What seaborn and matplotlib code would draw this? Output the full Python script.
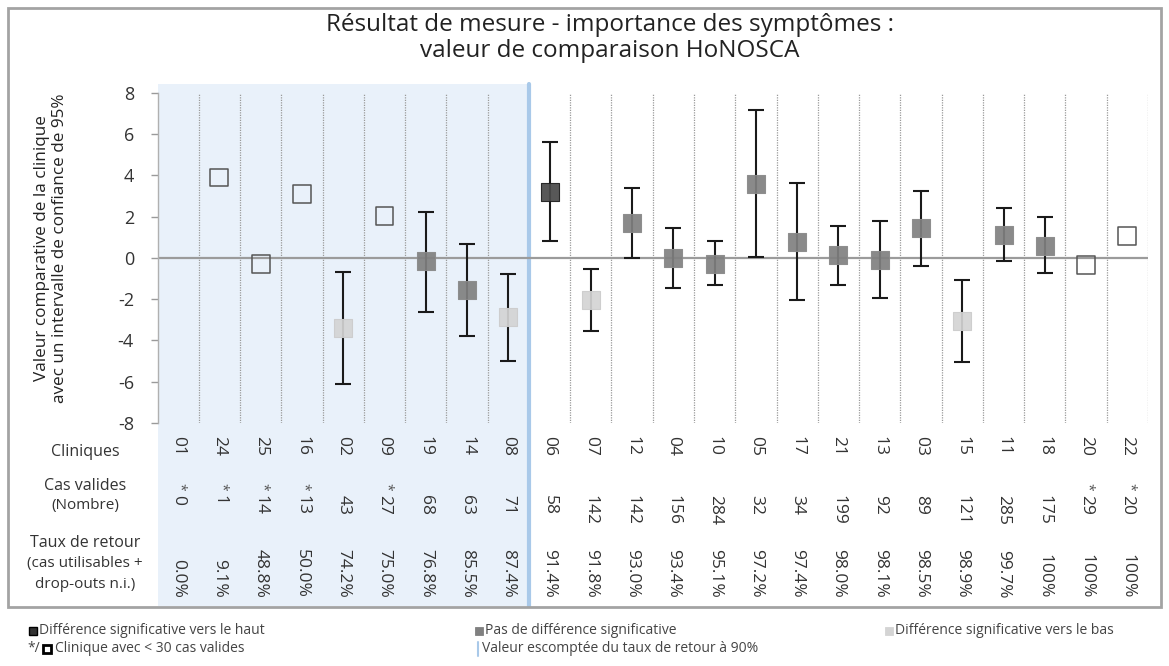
import numpy as np
import pandas as pd
import matplotlib
matplotlib.use("Agg")
import matplotlib.pyplot as plt
import matplotlib.patches as mpatches
import matplotlib.lines as mlines
import seaborn as sns

# data
cliniques = ["01", "24", "25", "16", "02", "09", "19", "14", "08",
             "06", "07", "12", "04", "10", "05", "17", "21", "13",
             "03", "15", "11", "18", "20", "22"]
cas_valides = [0, 1, 14, 13, 43, 27, 68, 63, 71,
               58, 142, 142, 156, 284, 32, 34, 199, 92,
               89, 121, 285, 175, 29, 20]
taux_retour = [0.0, 9.1, 48.8, 50.0, 74.2, 75.0, 76.8, 85.5, 87.4,
               91.4, 91.8, 93.0, 93.4, 95.1, 97.2, 97.4, 98.0, 98.1,
               98.5, 98.9, 99.7, 100, 100, 100]
valeur = [np.nan, 3.9, -0.3, 3.1, -3.4, 2.05, -0.15, -1.55, -2.85,
          3.2, -2.05, 1.72, -0.02, -0.27, 3.6, 0.78, 0.15, -0.1,
          1.44, -3.05, 1.12, 0.6, -0.32, 1.08]
ic_bas = [np.nan, np.nan, np.nan, np.nan, -6.1, np.nan, -2.6, -3.77, -4.97,
          0.8, -3.56, -0.02, -1.44, -1.31, 0.03, -2.06, -1.31, -1.96,
          -0.4, -5.06, -0.16, -0.74, np.nan, np.nan]
ic_haut = [np.nan, np.nan, np.nan, np.nan, -0.7, np.nan, 2.25, 0.7, -0.76,
           5.63, -0.53, 3.41, 1.44, 0.81, 7.17, 3.64, 1.57, 1.8,
           3.27, -1.05, 2.43, 1.97, np.nan, np.nan]
statut = ["petit", "petit", "petit", "petit", "bas", "petit", "ns", "ns", "bas",
          "haut", "bas", "ns", "ns", "ns", "ns", "ns", "ns", "ns",
          "ns", "bas", "ns", "ns", "petit", "petit"]
seuil_taux = 90

couleurs = {"haut": "#4a4a4a", "ns": "#808080", "bas": "#d4d4d4"}
bords = {"haut": "#1e1e1e", "ns": "#8a8a8a", "bas": "#cccccc"}

df = pd.DataFrame({"clinique": cliniques, "cas": cas_valides, "taux": taux_retour,
                   "valeur": valeur, "bas": ic_bas, "haut": ic_haut, "statut": statut})
df["pos"] = np.arange(len(df))

W, H = 1169, 666
sns.set_theme(style="white")
plt.rcParams['font.family'] = ['Open Sans', 'DejaVu Sans']
plt.rcParams['axes.unicode_minus'] = False

fig = plt.figure(figsize=(W / 100, H / 100), dpi=100)
ax_l, ax_b = 157.5 / W, 1 - 423 / H
ax_w, ax_h = (1148 - 157.5) / W, (423 - 93) / H
ax = fig.add_axes([ax_l, ax_b, ax_w, ax_h])


def fx(px):
    return px / W


def fy(py):
    return 1 - py / H


def ya(py):
    # pixel row -> axes fraction
    return (fy(py) - ax_b) / ax_h


n_bas = int((df["taux"] < seuil_taux).sum())

# blue zone: clinics below expected return rate
ax.axvspan(-0.5, n_bas - 0.5, ymin=ya(606), ymax=ya(84), color="#e9f1fa",
           zorder=0, clip_on=False, lw=0)
ax.axvline(n_bas - 0.5, ymin=ya(606), ymax=ya(84), color="#a9c9e9", lw=3,
           zorder=1, clip_on=False)
for k in range(len(df)):
    if k + 1 != n_bas:
        ax.axvline(k + 0.5, color="#9a9a9a", lw=0.9, ls=(0, (1, 1)), zorder=1)
ax.axhline(0, color="#9b9b9b", lw=1.6, zorder=1)

ci = df.dropna(subset=["bas"])
ax.errorbar(ci["pos"], ci["valeur"],
            yerr=[ci["valeur"] - ci["bas"], ci["haut"] - ci["valeur"]],
            fmt="none", ecolor="#1a1a1a", elinewidth=1.5, capsize=5.5,
            capthick=1.5, zorder=3)

for k in ["haut", "ns", "bas"]:
    sub = df[df["statut"] == k]
    sns.scatterplot(data=sub, x="pos", y="valeur", marker="s", s=165,
                    color=couleurs[k], edgecolor=bords[k], linewidth=0.8,
                    alpha=0.92, zorder=4, ax=ax, legend=False)
petits = df[(df["statut"] == "petit") & df["valeur"].notna()]
sns.scatterplot(data=petits, x="pos", y="valeur", marker="s", s=165,
                facecolor="none", edgecolor="#555555", linewidth=1.1,
                zorder=4, ax=ax, legend=False)

ax.set_xlim(-0.5, len(df) - 0.5)
ax.set_ylim(-8, 8)
ax.set_yticks(range(-8, 9, 2))
ax.set_xticks([])
ax.set_xlabel("")
ax.set_ylabel("")
ax.tick_params(axis="y", length=5, width=1, color="#9a9a9a", labelsize=13,
               labelcolor="#333333", pad=12, left=True)
for s in ["top", "right", "bottom"]:
    ax.spines[s].set_visible(False)
ax.spines["left"].set_color("#b0b0b0")
ax.spines["left"].set_linewidth(1)
ax.patch.set_alpha(0)

# table rows under the plot
tr = ax.get_xaxis_transform()
txt = dict(color="#333333", fontsize=12.5, transform=tr, clip_on=False)
for p, c, n, t, st in zip(df["pos"], df["clinique"], df["cas"], df["taux"], df["statut"]):
    ax.text(p, ya(446), c, rotation=-90, ha="center", va="center", **txt)
    ax.text(p, ya(495), str(n), rotation=-90, rotation_mode="anchor",
            ha="left", va="center", **txt)
    if n < 30:
        ax.text(p + 0.04, ya(491), "*", rotation=-90, rotation_mode="anchor",
                ha="right", va="center", color="#555555", fontsize=10,
                transform=tr, clip_on=False)
    lab = "100%" if t == 100 else "{0:0.1f}%".format(t)
    ax.text(p, ya(598), lab, rotation=-90, rotation_mode="anchor",
            ha="right", va="center", **txt)

lbl = dict(ha="center", va="center", color="#333333")
fig.text(fx(85), fy(452), "Cliniques", fontsize=11.5, **lbl)
fig.text(fx(85), fy(486), "Cas valides", fontsize=11.5, **lbl)
fig.text(fx(85), fy(506), "(Nombre)", fontsize=11, **lbl)
fig.text(fx(85), fy(543), "Taux de retour", fontsize=11.5, **lbl)
fig.text(fx(85), fy(564), "(cas utilisables +", fontsize=11, **lbl)
fig.text(fx(85), fy(584), "drop-outs n.i.)", fontsize=11, **lbl)

fig.text(fx(51), fy(248),
         "Valeur comparative de la clinique\navec un intervalle de confiance de 95%",
         rotation=90, ha="center", va="center", fontsize=12.3, color="#222222",
         linespacing=1.15, multialignment="center")

fig.text(fx(610), fy(38),
         "Résultat de mesure - importance des symptômes :\nvaleur de comparaison HoNOSCA",
         ha="center", va="center", fontsize=17.5, color="#222222", linespacing=1.1)

# outer frame
fig.patches.append(mpatches.Rectangle((fx(8), fy(607)), fx(1161) - fx(8), fy(8) - fy(607),
                                      transform=fig.transFigure, fill=False,
                                      ec="#a3a3a3", lw=2))

# legend below the frame
leg = dict(fontsize=10, color="#444444", va="center", ha="left")


def carre(x, y, fc, ec, lw=0.6):
    fig.patches.append(mpatches.Rectangle((fx(x), fy(y + 4)), fx(8), 8 / H,
                                          transform=fig.transFigure, fc=fc, ec=ec, lw=lw))


carre(29, 631, "#333333", "#000000", 1.0)
fig.text(fx(39), fy(631), "Différence significative vers le haut", **leg)
carre(475, 631, couleurs["ns"], couleurs["ns"])
fig.text(fx(485), fy(631), "Pas de différence significative", **leg)
carre(885, 631, couleurs["bas"], couleurs["bas"])
fig.text(fx(895), fy(631), "Différence significative vers le bas", **leg)
fig.text(fx(27), fy(649), "*/", **leg)
carre(43, 649, "white", "#000000", 2.0)
fig.text(fx(55), fy(649), "Clinique avec < 30 cas valides", **leg)
fig.lines.append(mlines.Line2D([fx(478), fx(478)], [fy(642), fy(656)],
                               transform=fig.transFigure, color="#a9c9e9", lw=1.5))
fig.text(fx(482), fy(649), "Valeur escomptée du taux de retour à 90%", **leg)

fig.savefig("out.png", dpi=100)
